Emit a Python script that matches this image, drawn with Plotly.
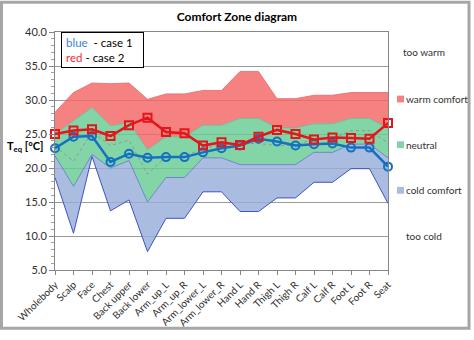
import plotly.graph_objects as go

# Body segments along the x axis
segments = ["Wholebody", "Scalp", "Face", "Chest", "Back upper", "Back lower",
            "Arm_up_L", "Arm_up_R", "Arm_lower_L", "Arm_lower_R", "Hand L", "Hand R",
            "Thigh L", "Thigh R", "Calf L", "Calf R", "Foot L", "Foot R", "Seat"]

# Comfort zone limits, equivalent temperature [°C]
cold_lower = [18.6, 10.4, 21.7, 13.7, 15.3, 7.7, 12.6, 12.6, 16.5, 16.5,
              13.6, 13.6, 15.6, 15.6, 17.9, 17.9, 19.9, 19.9, 14.8]
cold_upper = [21.8, 17.3, 22.0, 20.0, 21.1, 15.0, 18.6, 18.6, 21.5, 21.5,
              20.5, 20.5, 20.5, 20.5, 22.3, 22.3, 23.5, 23.5, 21.5]
neutral_upper = [25.0, 26.9, 28.9, 26.2, 26.7, 22.7, 24.6, 24.6, 26.3, 26.3,
                 27.3, 27.3, 25.9, 25.9, 26.5, 26.5, 27.3, 27.3, 25.8]
warm_upper = [28.2, 31.1, 32.5, 32.4, 32.5, 30.1, 30.9, 30.9, 31.4, 31.4,
              34.2, 34.2, 30.2, 30.2, 30.7, 30.7, 31.1, 31.1, 31.1]
neutral_mid = [23.2, 21.0, 25.3, 23.3, 24.1, 19.1, 21.7, 21.7, 22.9, 23.4,
               23.6, 23.6, 23.3, 23.3, 24.3, 24.3, 25.5, 25.5, 23.7]

# Measured equivalent temperatures
case1 = [22.9, 24.6, 24.7, 20.9, 22.1, 21.5, 21.6, 21.6, 22.3, 22.9,
         23.3, 24.3, 23.9, 23.3, 23.5, 23.6, 23.0, 23.0, 20.2]
case2 = [25.0, 25.5, 25.7, 24.7, 26.3, 27.4, 25.3, 25.1, 23.3, 23.8,
         23.4, 24.6, 25.6, 25.0, 24.2, 24.5, 24.4, 24.3, 26.6]

y_ticks = [5, 10, 15, 20, 25, 30, 35, 40]

FONT = "Lato"
RED_FILL = "rgba(244,101,101,0.82)"
GREEN_FILL = "rgba(104,204,148,0.82)"
BLUE_FILL = "rgba(151,175,218,0.82)"

x = list(range(len(segments)))

fig = go.Figure()

fig.add_trace(go.Scatter(x=x, y=cold_lower, mode="lines",
                         line=dict(color="#3f52c2", width=1), hoverinfo="skip"))
fig.add_trace(go.Scatter(x=x, y=cold_upper, mode="lines", fill="tonexty",
                         fillcolor=BLUE_FILL, line=dict(color="#5f74c8", width=0.8)))
fig.add_trace(go.Scatter(x=x, y=neutral_upper, mode="lines", fill="tonexty",
                         fillcolor=GREEN_FILL, line=dict(color="#5fbf8c", width=0.8)))
fig.add_trace(go.Scatter(x=x, y=warm_upper, mode="lines", fill="tonexty",
                         fillcolor=RED_FILL, line=dict(color="#e66868", width=0.8)))
fig.add_trace(go.Scatter(x=x, y=neutral_mid, mode="lines",
                         line=dict(color="#8a9a8e", width=1, dash="dot")))

fig.add_trace(go.Scatter(x=x, y=case1, mode="lines+markers", cliponaxis=False,
                         line=dict(color="#1570c0", width=2.5),
                         marker=dict(symbol="circle-open", size=8, color="#1570c0",
                                     line=dict(width=2))))
fig.add_trace(go.Scatter(x=x, y=case2, mode="lines+markers", cliponaxis=False,
                         line=dict(color="#e3161c", width=2.5),
                         marker=dict(symbol="square-open", size=8, color="#e3161c",
                                     line=dict(width=2))))

fig.update_layout(
    width=474, height=340,
    margin=dict(l=55, r=86, t=32, b=63),
    paper_bgcolor="white", plot_bgcolor="white",
    showlegend=False,
    font=dict(family=FONT, size=10, color="#404040"),
    title=dict(text="<b>Comfort Zone diagram</b>", x=0.5, xanchor="center",
               y=1 - 17 / 340, yanchor="middle",
               font=dict(family=FONT, size=12, color="#000000")),
    xaxis=dict(range=[0, 18], tickmode="array", tickvals=x, ticktext=segments,
               tickangle=-45, ticks="outside", ticklen=4, tickcolor="#868686",
               showline=True, linecolor="#868686", mirror=True, showgrid=False,
               zeroline=False, tickfont=dict(size=10, color="#303030")),
    yaxis=dict(range=[5, 40], tickmode="array", tickvals=y_ticks,
               tickformat=".1f", ticks="outside", ticklen=5, tickcolor="#868686",
               minor=dict(ticks="outside", dtick=1, ticklen=3, tickcolor="#a0a0a0",
                          showgrid=False),
               showline=True, linecolor="#868686", mirror=True,
               showgrid=True, gridcolor="#9a9a9a", gridwidth=1, zeroline=False,
               tickfont=dict(size=11, color="#303030")),
)

# Axis title, written horizontally to the left of the axis
fig.add_annotation(text="<b>T<sub>eq</sub> [°C]</b>", xref="paper", yref="paper",
                   x=-50 / 333, y=(277 - 150) / 245, xanchor="left", yanchor="middle",
                   showarrow=False, font=dict(family=FONT, size=11, color="#000000"))

# Case key box inside the plot
fig.add_annotation(
    text="<span style='color:#3b82d6'>blue</span>  - case 1<br>"
         "<span style='color:#ff2a2a'>red</span> - case 2",
    xref="paper", yref="paper", x=6 / 333, y=1.0, xanchor="left", yanchor="top",
    align="left", showarrow=False, bgcolor="white", bordercolor="#000000",
    borderwidth=1, borderpad=4, width=73, height=26,
    font=dict(family=FONT, size=11.5, color="#000000"))

# Zone labels on the right
px_x = lambda px: (px - 55) / 333
px_y = lambda py: (277 - py) / 245
zone_labels = [("too warm", None, 53), ("warm comfort", RED_FILL, 101),
               ("neutral", GREEN_FILL, 148), ("cold comfort", BLUE_FILL, 195),
               ("too cold", None, 242)]
for label, colour, ypx in zone_labels:
    if colour is None:
        fig.add_annotation(text=label, xref="paper", yref="paper", x=px_x(424), y=px_y(ypx),
                           xanchor="center", yanchor="middle", showarrow=False,
                           font=dict(family=FONT, size=10, color="#303030"))
    else:
        fig.add_shape(type="rect", xref="paper", yref="paper",
                      x0=px_x(397), x1=px_x(404), y0=px_y(ypx + 3.5), y1=px_y(ypx - 3.5),
                      fillcolor=colour, line=dict(width=0))
        fig.add_annotation(text=label, xref="paper", yref="paper", x=px_x(404), y=px_y(ypx),
                           xanchor="left", yanchor="middle", showarrow=False,
                           font=dict(family=FONT, size=10, color="#303030"))

# Chart frame
fig.add_shape(type="rect", xref="paper", yref="paper",
              x0=px_x(1.5), x1=px_x(469), y0=px_y(337), y1=px_y(1.5),
              line=dict(color="#a6a6a6", width=3), fillcolor="rgba(0,0,0,0)", layer="above")

fig.write_html("out.html")
